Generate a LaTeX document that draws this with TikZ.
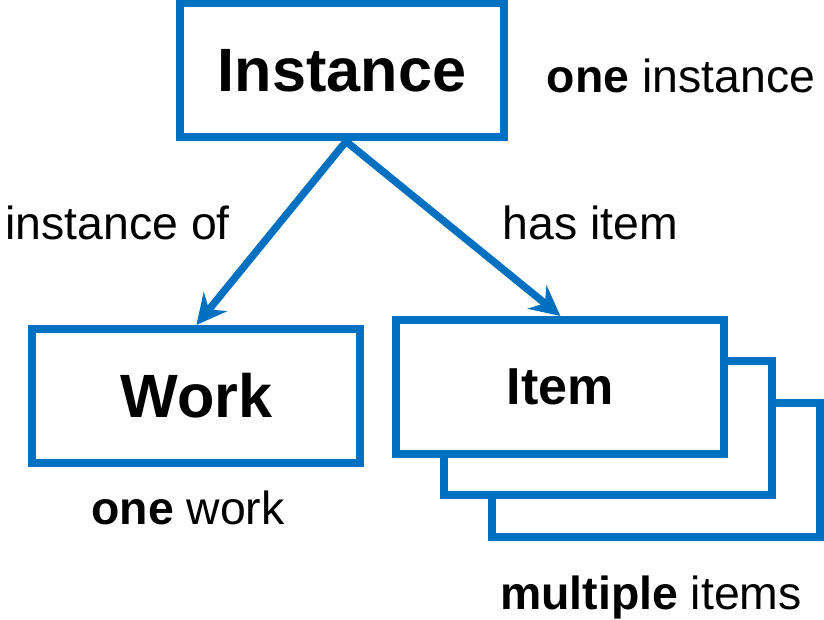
\documentclass[tikz,border=0pt]{standalone}
\usepackage{fontspec}
\setmainfont{Liberation Sans}
\usetikzlibrary{arrows.meta,positioning,calc}
\definecolor{boxblue}{RGB}{0,112,192}

\begin{document}
\begin{tikzpicture}[
  box/.style={draw=boxblue, line width=0.2cm, fill=white, inner sep=0pt,
    minimum width=8.2cm, minimum height=3.35cm},
  link/.style={draw=boxblue, line width=0.185cm,
    -{Stealth[length=0.75cm,width=0.75cm,inset=0.25cm]}},
  big/.style={font=\fontsize{43.5pt}{50pt}\selectfont\bfseries},
  note/.style={anchor=base, font=\fontsize{33pt}{39pt}\selectfont}
]
\useasboundingbox (0,0) rectangle (20.6,15.5);
\node[box, big, minimum width=8.1cm] (inst) at (8.55,13.74) {Instance};
\node[box, big] (work) at (4.91,5.6) {Work};
\node[box] (itemC) at (16.41,3.76) {};
\node[box] (itemB) at (15.21,4.79) {};
\node[box, font=\fontsize{37pt}{44pt}\selectfont\bfseries] (item) at (14.01,5.825) {Item};
\coordinate (fork) at ($(inst.south)+(0.1,0)$);
\draw[link] (fork) -- (work.north);
\draw[link] (fork) -- (item.north);
\node[note] (oneinst) at (17.025,13.175) {\textbf{one} instance};
\node[note] (instof) at (2.94,9.5) {instance of};
\node[note] (hasitem) at (14.76,9.5) {has item};
\node[note] (onework) at (4.7,2.375) {\textbf{one} work};
\node[note] (multi) at (16.275,0.25) {\textbf{multiple} items};
\end{tikzpicture}
\end{document}
